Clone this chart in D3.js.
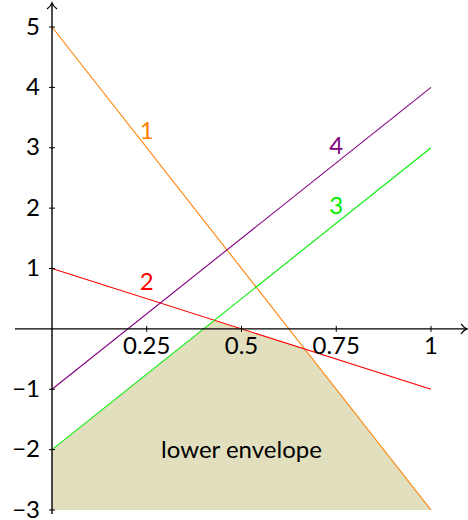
<!DOCTYPE html>
<html>
<head>
<meta charset="utf-8">
<script src="https://cdn.jsdelivr.net/npm/d3@7"></script>
<style>
  html, body { margin: 0; padding: 0; background: #fff; }
  svg { display: block; }
  text { font-family: Lato, "Open Sans", sans-serif; }
</style>
</head>
<body>
<svg id="chart" width="468" height="520"></svg>
<script>
// ---- data ----
const lineNames = ["1", "2", "3", "4"];
const valuesAtX0 = [5, 1, -2, -1];
const valuesAtX1 = [-3, -1, 3, 4];
const lineColors = ["#ff8000", "#ff0000", "#00ee00", "#800080"];
const labelX = [0.25, 0.25, 0.75, 0.75];
const xTicks = [0.25, 0.5, 0.75, 1];
const xTickLabels = ["0.25", "0.5", "0.75", "1"];
const yTicks = [5, 4, 3, 2, 1, -1, -2, -3];
const yTickLabels = ["5", "4", "3", "2", "1", "\u22121", "\u22122", "\u22123"];
const envelopeLabel = "lower envelope";
const envelopeLabelPos = [0.5, -2];
const xDomain = [0, 1];
const yDomain = [-3, 5];

// ---- scales ----
const x = d3.scaleLinear().domain(xDomain).range([52, 431]);
const y = d3.scaleLinear().domain(yDomain).range([510, 27]);

const svg = d3.select("#chart");

const lines = lineNames.map((n, i) => ({
  name: n, a: valuesAtX0[i], b: valuesAtX1[i], color: lineColors[i], lx: labelX[i]
}));
const valAt = (l, t) => l.a + (l.b - l.a) * t;

// breakpoints of the lower envelope: endpoints + pairwise intersections
let xs = [xDomain[0], xDomain[1]];
for (let i = 0; i < lines.length; i++) {
  for (let j = i + 1; j < lines.length; j++) {
    const si = lines[i].b - lines[i].a, sj = lines[j].b - lines[j].a;
    if (si !== sj) {
      const t = (lines[j].a - lines[i].a) / (si - sj);
      if (t > 0 && t < 1) xs.push(t);
    }
  }
}
xs.sort((p, q) => p - q);
const env = xs.map(t => ({ t, v: d3.min(lines, l => valAt(l, t)) }));

svg.append("path")
  .datum(env)
  .attr("fill", "#e1dfbe")
  .attr("d", d3.area().x(d => x(d.t)).y0(y(yDomain[0])).y1(d => y(d.v)));

// lines
const lineGen = d3.line().x(d => x(d[0])).y(d => y(d[1]));
svg.selectAll(".ln").data(lines).enter().append("path")
  .attr("fill", "none")
  .attr("stroke", d => d.color)
  .attr("stroke-width", 1.1)
  .attr("d", d => lineGen([[xDomain[0], d.a], [xDomain[1], d.b]]));

// line labels
svg.selectAll(".lab").data(lines).enter().append("text")
  .attr("x", d => x(d.lx))
  .attr("y", d => y(valAt(d, d.lx)) - 9)
  .attr("text-anchor", "middle")
  .attr("font-size", 24)
  .attr("fill", d => d.color)
  .text(d => d.name);

// envelope label
svg.append("text")
  .attr("x", x(envelopeLabelPos[0]))
  .attr("y", y(envelopeLabelPos[1]))
  .attr("dy", "0.35em")
  .attr("text-anchor", "middle")
  .attr("font-size", 24)
  .attr("fill", "#000")
  .text(envelopeLabel);

// axes
const ax = svg.append("g").attr("stroke", "#000").attr("stroke-width", 1.4).attr("fill", "none");
const y0 = y(0), x0 = x(0);
ax.append("line").attr("x1", 15).attr("x2", 467).attr("y1", y0).attr("y2", y0);
ax.append("line").attr("x1", x0).attr("x2", x0).attr("y1", 514).attr("y2", 3);
// arrow heads
ax.append("path").attr("stroke-width", 1.2)
  .attr("d", `M${461},${y0 - 5} Q${464},${y0 - 1} ${467},${y0} Q${464},${y0 + 1} ${461},${y0 + 5}`);
ax.append("path").attr("stroke-width", 1.2)
  .attr("d", `M${x0 - 5},${9} Q${x0 - 1},${6} ${x0},${3} Q${x0 + 1},${6} ${x0 + 5},${9}`);

// ticks
ax.selectAll(".xt").data(xTicks).enter().append("line")
  .attr("stroke-width", 1)
  .attr("x1", d => x(d)).attr("x2", d => x(d)).attr("y1", y0 - 3).attr("y2", y0 + 3);
ax.selectAll(".yt").data(yTicks).enter().append("line")
  .attr("stroke-width", 1)
  .attr("y1", d => y(d)).attr("y2", d => y(d)).attr("x1", x0 - 3).attr("x2", x0 + 3);

svg.selectAll(".xtl").data(xTicks).enter().append("text")
  .attr("x", d => x(d)).attr("y", y0 + 25)
  .attr("text-anchor", "middle").attr("font-size", 24).attr("fill", "#000")
  .text((d, i) => xTickLabels[i]);
svg.selectAll(".ytl").data(yTicks).enter().append("text")
  .attr("x", 40).attr("y", d => y(d)).attr("dy", "0.32em")
  .attr("text-anchor", "end").attr("font-size", 24).attr("fill", "#000")
  .text((d, i) => yTickLabels[i]);
</script>
</body>
</html>
